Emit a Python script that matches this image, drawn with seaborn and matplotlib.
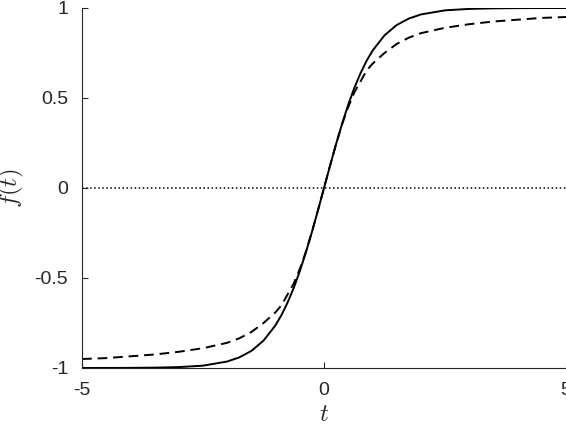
import numpy as np
import pandas as pd
import matplotlib
matplotlib.use("Agg")
import matplotlib.pyplot as plt
import seaborn as sns

t_pos = [0, 0.125, 0.25, 0.375, 0.5, 0.625, 0.75, 0.875, 1.0, 1.25, 1.5, 1.75, 2.0, 2.5, 3.0, 3.5, 4.0, 4.5, 5.0]
solid_pos = [0, 0.124, 0.245, 0.358, 0.462, 0.555, 0.635, 0.704, 0.762, 0.848, 0.905, 0.941, 0.964, 0.987, 0.995, 0.998, 0.9993, 0.9998, 0.9999]
dashed_pos = [0, 0.124, 0.244, 0.355, 0.45, 0.53, 0.59, 0.65, 0.69, 0.75, 0.80, 0.835, 0.86, 0.89, 0.91, 0.925, 0.935, 0.945, 0.95]

t = [-v for v in t_pos[::-1]] + t_pos[1:]
solid = [-v for v in solid_pos[::-1]] + solid_pos[1:]
dashed = [-v for v in dashed_pos[::-1]] + dashed_pos[1:]
df = pd.DataFrame({"t": t, "solid": solid, "dashed": dashed})

sns.set_style("ticks")
plt.rcParams['font.family'] = ['Liberation Sans', 'DejaVu Sans']
plt.rcParams['mathtext.fontset'] = 'cm'
fig = plt.figure(figsize=(5.66, 4.30), dpi=100)
ax = fig.add_axes([82/566, 1-368/430, 484/566, 360/430])
ax.axhline(0, color='black', linestyle=':', linewidth=1.1)
sns.lineplot(data=df, x="t", y="solid", ax=ax, color='black', linewidth=1.4)
sns.lineplot(data=df, x="t", y="dashed", ax=ax, color='black', linewidth=1.4, linestyle=(0, (5, 3)))
ax.set_xlim(-5, 5)
ax.set_ylim(-1, 1)
ax.set_xticks([-5, 0, 5])
ax.set_xticklabels(['-5', '0', '5'])
ax.set_yticks([-1, -0.5, 0, 0.5, 1])
ax.set_yticklabels(['-1', '-0.5', '0', '0.5', '1'])
ax.tick_params(direction='in', labelsize=14, length=4)
ax.tick_params(axis='x', pad=10)
ax.tick_params(axis='y', pad=10)
ax.set_xlabel('$t$', fontsize=18, labelpad=2)
ax.set_ylabel('$f(t)$', fontsize=18, labelpad=6)
sns.despine(ax=ax)
fig.savefig('out.png', dpi=100)
